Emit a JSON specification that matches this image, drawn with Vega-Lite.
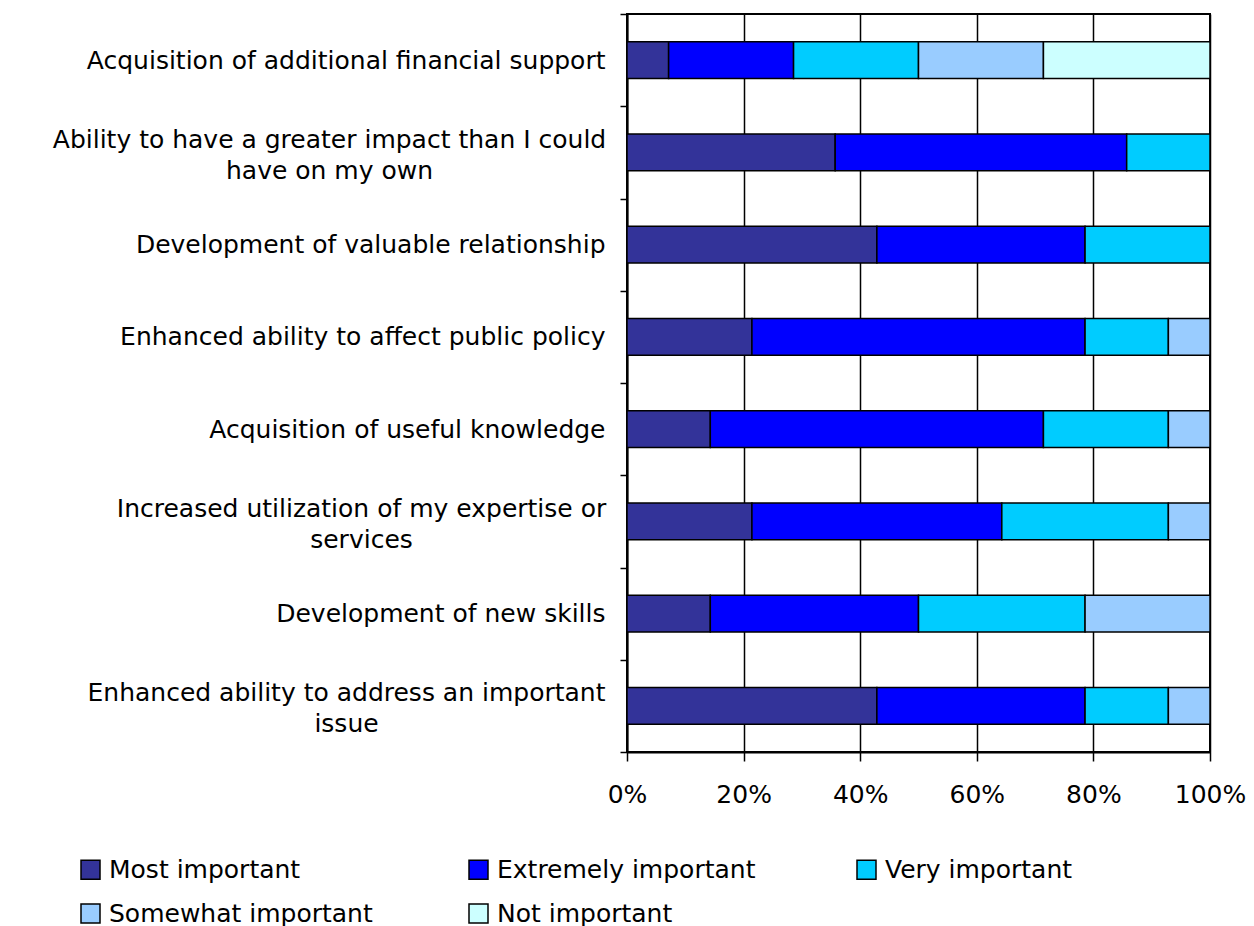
{
  "$schema": "https://vega.github.io/schema/vega-lite/v6.json",
  "autosize": {"type": "none"},
  "padding": {"left": 627, "top": 14, "right": 44, "bottom": 174},
  "width": 583,
  "height": 738,
  "background": "white",
  "config": {
    "font": "DejaVu Sans",
    "view": {"stroke": "black", "strokeWidth": 2}
  },
  "data": {
    "values": [
      {"item": "Acquisition of additional financial support", "level": "Most important", "rank": 1, "pct": 7.14},
      {"item": "Acquisition of additional financial support", "level": "Extremely important", "rank": 2, "pct": 21.43},
      {"item": "Acquisition of additional financial support", "level": "Very important", "rank": 3, "pct": 21.43},
      {"item": "Acquisition of additional financial support", "level": "Somewhat important", "rank": 4, "pct": 21.43},
      {"item": "Acquisition of additional financial support", "level": "Not important", "rank": 5, "pct": 28.57},
      {"item": "Ability to have a greater impact than I could have on my own", "level": "Most important", "rank": 1, "pct": 35.71},
      {"item": "Ability to have a greater impact than I could have on my own", "level": "Extremely important", "rank": 2, "pct": 50.0},
      {"item": "Ability to have a greater impact than I could have on my own", "level": "Very important", "rank": 3, "pct": 14.29},
      {"item": "Development of valuable relationship", "level": "Most important", "rank": 1, "pct": 42.86},
      {"item": "Development of valuable relationship", "level": "Extremely important", "rank": 2, "pct": 35.71},
      {"item": "Development of valuable relationship", "level": "Very important", "rank": 3, "pct": 21.43},
      {"item": "Enhanced ability to affect public policy", "level": "Most important", "rank": 1, "pct": 21.43},
      {"item": "Enhanced ability to affect public policy", "level": "Extremely important", "rank": 2, "pct": 57.14},
      {"item": "Enhanced ability to affect public policy", "level": "Very important", "rank": 3, "pct": 14.29},
      {"item": "Enhanced ability to affect public policy", "level": "Somewhat important", "rank": 4, "pct": 7.14},
      {"item": "Acquisition of useful knowledge", "level": "Most important", "rank": 1, "pct": 14.29},
      {"item": "Acquisition of useful knowledge", "level": "Extremely important", "rank": 2, "pct": 57.14},
      {"item": "Acquisition of useful knowledge", "level": "Very important", "rank": 3, "pct": 21.43},
      {"item": "Acquisition of useful knowledge", "level": "Somewhat important", "rank": 4, "pct": 7.14},
      {"item": "Increased utilization of my expertise or services", "level": "Most important", "rank": 1, "pct": 21.43},
      {"item": "Increased utilization of my expertise or services", "level": "Extremely important", "rank": 2, "pct": 42.86},
      {"item": "Increased utilization of my expertise or services", "level": "Very important", "rank": 3, "pct": 28.57},
      {"item": "Increased utilization of my expertise or services", "level": "Somewhat important", "rank": 4, "pct": 7.14},
      {"item": "Development of new skills", "level": "Most important", "rank": 1, "pct": 14.29},
      {"item": "Development of new skills", "level": "Extremely important", "rank": 2, "pct": 35.71},
      {"item": "Development of new skills", "level": "Very important", "rank": 3, "pct": 28.57},
      {"item": "Development of new skills", "level": "Somewhat important", "rank": 4, "pct": 21.43},
      {"item": "Enhanced ability to address an important issue", "level": "Most important", "rank": 1, "pct": 42.86},
      {"item": "Enhanced ability to address an important issue", "level": "Extremely important", "rank": 2, "pct": 35.71},
      {"item": "Enhanced ability to address an important issue", "level": "Very important", "rank": 3, "pct": 14.29},
      {"item": "Enhanced ability to address an important issue", "level": "Somewhat important", "rank": 4, "pct": 7.14}
    ]
  },
  "mark": {"type": "bar", "stroke": "black", "strokeWidth": 1.5, "height": {"band": 0.4}},
  "encoding": {
    "y": {
      "field": "item",
      "type": "nominal",
      "sort": null,
      "scale": {"paddingInner": 0, "paddingOuter": 0},
      "axis": {
        "title": null,
        "tickBand": "extent",
        "grid": false,
        "domainColor": "black",
        "domainWidth": 2,
        "tickColor": "black",
        "tickWidth": 1.5,
        "tickSize": 7,
        "labelFontSize": 25,
        "labelColor": "black",
        "labelLimit": 800,
        "labelLineHeight": 31,
        "labelAlign": {"condition": {"test": "indexof(['Ability to have a greater impact than I could have on my own', 'Increased utilization of my expertise or services', 'Enhanced ability to address an important issue'], datum.value) >= 0", "value": "center"}, "value": "right"},
        "labelPadding": {"condition": [
          {"test": "datum.value == 'Ability to have a greater impact than I could have on my own'", "value": 291},
          {"test": "datum.value == 'Increased utilization of my expertise or services'", "value": 259},
          {"test": "datum.value == 'Enhanced ability to address an important issue'", "value": 274}
        ], "value": 15},
        "labelOffset": {"condition": {"test": "indexof(['Ability to have a greater impact than I could have on my own', 'Increased utilization of my expertise or services', 'Enhanced ability to address an important issue'], datum.value) >= 0", "value": -13}, "value": 0},
        "labelExpr": "datum.label == 'Ability to have a greater impact than I could have on my own' ? ['Ability to have a greater impact than I could', 'have on my own'] : datum.label == 'Increased utilization of my expertise or services' ? ['Increased utilization of my expertise or', 'services'] : datum.label == 'Enhanced ability to address an important issue' ? ['Enhanced ability to address an important', 'issue'] : datum.label"
      }
    },
    "x": {
      "field": "pct",
      "type": "quantitative",
      "stack": "normalize",
      "scale": {"domain": [0, 1], "nice": false},
      "axis": {
        "title": null,
        "values": [0, 0.2, 0.4, 0.6, 0.8, 1],
        "format": ".0%",
        "grid": true,
        "gridColor": "black",
        "gridWidth": 1.5,
        "gridOpacity": 1,
        "domainColor": "black",
        "domainWidth": 2,
        "tickColor": "black",
        "tickWidth": 1.5,
        "tickSize": 9,
        "labelFontSize": 25,
        "labelColor": "black",
        "labelPadding": 21,
        "labelFlush": false,
        "labelOverlap": false
      }
    },
    "color": {
      "field": "level",
      "type": "nominal",
      "scale": {
        "domain": ["Most important", "Extremely important", "Very important", "Somewhat important", "Not important"],
        "range": ["#333399", "#0000FF", "#00CCFF", "#99CCFF", "#CCFFFF"]
      },
      "legend": {
        "title": null,
        "orient": "none",
        "legendX": -549,
        "legendY": 843,
        "direction": "horizontal",
        "columns": 3,
        "gridAlign": "all",
        "columnPadding": 93,
        "rowPadding": 18,
        "symbolType": "square",
        "symbolSize": 361,
        "symbolStrokeColor": "black",
        "symbolStrokeWidth": 1.5,
        "symbolOpacity": 1,
        "labelFontSize": 25,
        "labelColor": "black",
        "labelOffset": 6,
        "labelLimit": 400
      }
    },
    "order": {"field": "rank", "type": "quantitative"}
  }
}
